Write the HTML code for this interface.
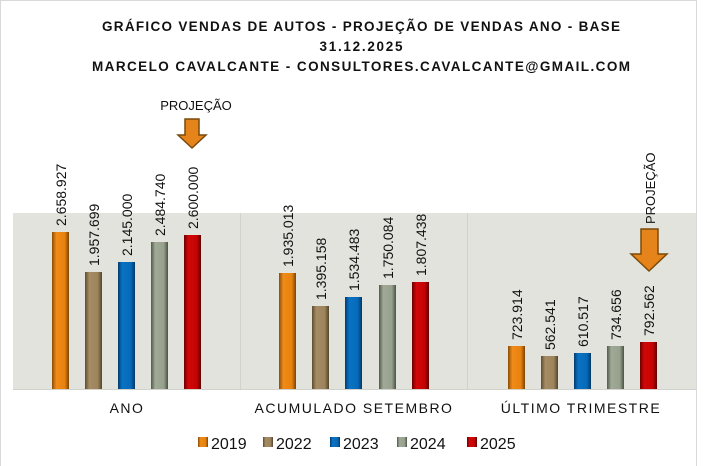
<!DOCTYPE html><html><head><meta charset="utf-8"><style>body{margin:0;background:#fff}svg{display:block}</style></head><body>
<svg width="708" height="466" xmlns="http://www.w3.org/2000/svg" font-family="Liberation Sans, Arial, sans-serif">
<defs>
<linearGradient id="o" x1="0" x2="1"><stop offset="0" stop-color="#8a4d08"/><stop offset=".25" stop-color="#f08a18"/><stop offset=".75" stop-color="#e8820f"/><stop offset="1" stop-color="#7a4406"/></linearGradient>
<linearGradient id="b" x1="0" x2="1"><stop offset="0" stop-color="#5e4c30"/><stop offset=".25" stop-color="#a68c64"/><stop offset=".75" stop-color="#9c845c"/><stop offset="1" stop-color="#54442a"/></linearGradient>
<linearGradient id="u" x1="0" x2="1"><stop offset="0" stop-color="#043c70"/><stop offset=".25" stop-color="#0a72c4"/><stop offset=".75" stop-color="#066ab8"/><stop offset="1" stop-color="#033866"/></linearGradient>
<linearGradient id="g" x1="0" x2="1"><stop offset="0" stop-color="#525a4c"/><stop offset=".25" stop-color="#a0a896"/><stop offset=".75" stop-color="#98a08e"/><stop offset="1" stop-color="#4a5244"/></linearGradient>
<linearGradient id="r" x1="0" x2="1"><stop offset="0" stop-color="#6a0000"/><stop offset=".25" stop-color="#d00808"/><stop offset=".75" stop-color="#c40404"/><stop offset="1" stop-color="#5e0000"/></linearGradient>
</defs>
<rect x="0.5" y="0.5" width="696" height="470" fill="#fff" stroke="#d9d9d9"/>
<g font-weight="bold" font-size="13.5" text-anchor="middle" fill="#111">
<text x="361" y="31" textLength="518" lengthAdjust="spacing">GRÁFICO VENDAS DE AUTOS - PROJEÇÃO DE VENDAS ANO - BASE</text>
<text x="361" y="51" textLength="83" lengthAdjust="spacing">31.12.2025</text>
<text x="361" y="71" textLength="538" lengthAdjust="spacing">MARCELO CAVALCANTE - CONSULTORES.CAVALCANTE@GMAIL.COM</text>
</g>
<rect x="13" y="213" width="683" height="176" fill="#e1e3dc"/>
<line x1="240.5" y1="213" x2="240.5" y2="389" stroke="#d0d2cb"/>
<line x1="467.5" y1="213" x2="467.5" y2="389" stroke="#d0d2cb"/>
<line x1="13" y1="389.5" x2="696" y2="389.5" stroke="#d0d2cb"/>
<g>
<rect x="52" y="232" width="17" height="157" fill="url(#o)"/>
<rect x="85" y="272" width="17" height="117" fill="url(#b)"/>
<rect x="118" y="262" width="17" height="127" fill="url(#u)"/>
<rect x="151" y="242" width="17" height="147" fill="url(#g)"/>
<rect x="184" y="235" width="17" height="154" fill="url(#r)"/>
<rect x="279" y="273" width="17" height="116" fill="url(#o)"/>
<rect x="312" y="306" width="17" height="83" fill="url(#b)"/>
<rect x="345" y="297" width="17" height="92" fill="url(#u)"/>
<rect x="379" y="285" width="17" height="104" fill="url(#g)"/>
<rect x="412" y="282" width="17" height="107" fill="url(#r)"/>
<rect x="508" y="346" width="17" height="43" fill="url(#o)"/>
<rect x="541" y="356" width="17" height="33" fill="url(#b)"/>
<rect x="574" y="353" width="17" height="36" fill="url(#u)"/>
<rect x="607" y="346" width="17" height="43" fill="url(#g)"/>
<rect x="640" y="342" width="17" height="47" fill="url(#r)"/>
</g>
<g font-size="14" fill="#111">
<text transform="translate(66,226) rotate(-90)">2.658.927</text>
<text transform="translate(99,266) rotate(-90)">1.957.699</text>
<text transform="translate(132,256) rotate(-90)">2.145.000</text>
<text transform="translate(165,236) rotate(-90)">2.484.740</text>
<text transform="translate(198,229) rotate(-90)">2.600.000</text>
<text transform="translate(293,267) rotate(-90)">1.935.013</text>
<text transform="translate(326,300) rotate(-90)">1.395.158</text>
<text transform="translate(359,291) rotate(-90)">1.534.483</text>
<text transform="translate(393,279) rotate(-90)">1.750.084</text>
<text transform="translate(426,276) rotate(-90)">1.807.438</text>
<text transform="translate(522,340) rotate(-90)">723.914</text>
<text transform="translate(555,350) rotate(-90)">562.541</text>
<text transform="translate(588,347) rotate(-90)">610.517</text>
<text transform="translate(621,340) rotate(-90)">734.656</text>
<text transform="translate(654,336) rotate(-90)">792.562</text>
</g>
<text x="196" y="110" font-size="13" text-anchor="middle" fill="#111">PROJEÇÃO</text>
<polygon points="185,119 199,119 199,135 206,135 192,148 178,135 185,135" fill="#e5841a" stroke="#7a4a0a" stroke-width="1.5"/>
<text transform="translate(655,224) rotate(-90)" font-size="13" fill="#111">PROJEÇÃO</text>
<polygon points="641,229 658,229 658,254 667,254 649,271 631,254 641,254" fill="#e5841a" stroke="#7a4a0a" stroke-width="1.5"/>
<g font-size="14" text-anchor="middle" fill="#111" letter-spacing="1.5">
<text x="127" y="413">ANO</text>
<text x="354" y="413">ACUMULADO SETEMBRO</text>
<text x="581" y="413">ÚLTIMO TRIMESTRE</text>
</g>
<g font-size="16" fill="#111">
<rect x="198" y="437" width="10" height="10" fill="url(#o)"/><text x="211" y="449">2019</text>
<rect x="263" y="437" width="10" height="10" fill="url(#b)"/><text x="276" y="449">2022</text>
<rect x="330" y="437" width="10" height="10" fill="url(#u)"/><text x="343" y="449">2023</text>
<rect x="397" y="437" width="10" height="10" fill="url(#g)"/><text x="410" y="449">2024</text>
<rect x="467" y="437" width="10" height="10" fill="url(#r)"/><text x="480" y="449">2025</text>
</g>
</svg>
</body></html>
